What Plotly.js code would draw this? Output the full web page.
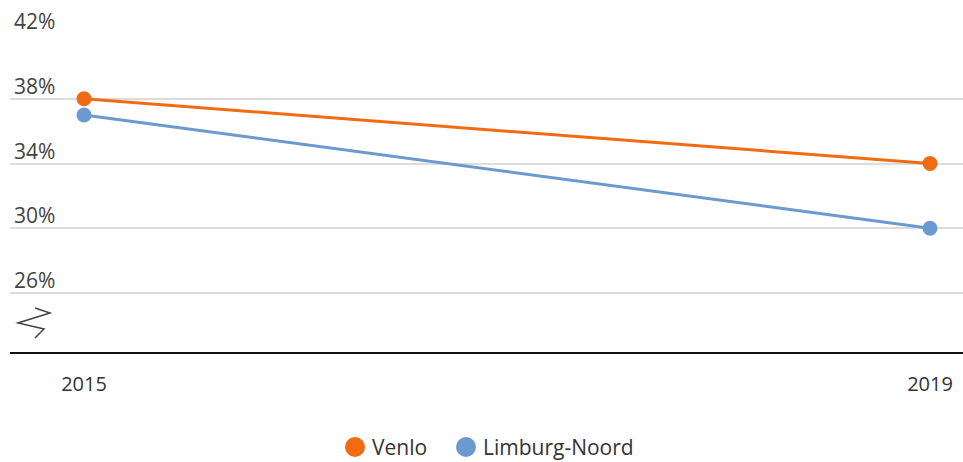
<!DOCTYPE html>
<html>
<head>
<meta charset="utf-8">
<script src="https://cdn.plot.ly/plotly-3.0.1.min.js"></script>
<style>html,body{margin:0;padding:0;background:#fff;}#chart{width:963px;height:462px;}</style>
</head>
<body>
<div id="chart"></div>
<script>
const years = [2015, 2019];
const venlo = [38, 34];
const limburgNoord = [37, 30];
const seriesNames = ['Venlo', 'Limburg-Noord'];
const yTickVals = [26, 30, 34, 38, 42];
const yTickText = ['26%', '30%', '34%', '38%', '42%'];
const xTickText = ['2015', '2019'];

const colors = ['#F26B12', '#6B9AD0'];
const fontFam = 'Open Sans, sans-serif';

const W = 963, H = 462, ML = 10, MR = 0, MT = 34, MB = 109;
const PW = W - ML - MR, PH = H - MT - MB;
const px2x = p => (p - ML) / PW;
const py2y = p => (H - MB - p) / PH;

const traces = [venlo, limburgNoord].map((vals, i) => ({
  x: years, y: vals, name: seriesNames[i], type: 'scatter', mode: 'lines+markers',
  line: {color: colors[i], width: 3},
  marker: {color: colors[i], size: 15},
  showlegend: false,
  hoverinfo: 'x+y+name'
}));

const annotations = yTickVals.map((v, i) => ({
  xref: 'paper', yref: 'y', x: 0, y: v, xanchor: 'left', yanchor: 'bottom',
  xshift: 2, yshift: -3,
  text: yTickText[i], showarrow: false,
  font: {family: fontFam, size: 21, color: '#444'}
}));

// manual legend (circle + label)
const legendCircleX = [355, 466];
const legendY = 447;
const shapes = [
  {type: 'line', xref: 'paper', yref: 'paper', x0: 0, x1: 1, y0: 0, y1: 0,
    line: {color: '#111', width: 2}},
  {type: 'path', xref: 'paper', yref: 'paper', xsizemode: 'pixel', ysizemode: 'pixel',
    xanchor: 0, yanchor: 0,
    path: 'M 25 45 L 40 40 L 8 30 L 34 24 L 25 15',
    line: {color: '#444', width: 1.5}}
];
seriesNames.forEach((n, i) => {
  shapes.push({type: 'circle', xref: 'paper', yref: 'paper', xsizemode: 'pixel', ysizemode: 'pixel',
    xanchor: px2x(legendCircleX[i]), yanchor: py2y(legendY),
    x0: -10, x1: 10, y0: -10, y1: 10,
    fillcolor: colors[i], line: {width: 0}});
  annotations.push({xref: 'paper', yref: 'paper', x: px2x(legendCircleX[i] + 15), y: py2y(legendY),
    xanchor: 'left', yanchor: 'middle', text: n, showarrow: false,
    font: {family: fontFam, size: 21, color: '#333'}});
});

const layout = {
  width: W, height: H,
  margin: {l: ML, r: MR, t: MT, b: MB},
  paper_bgcolor: '#fff', plot_bgcolor: '#fff',
  showlegend: false,
  xaxis: {range: [2014.65, 2019.156], tickvals: years, ticktext: xTickText,
    showgrid: false, zeroline: false, showline: false, ticks: '',
    tickfont: {family: fontFam, size: 20, color: '#333'}, ticklabelstandoff: 17, fixedrange: true},
  yaxis: {range: [22.3, 42], tickvals: yTickVals, showticklabels: false,
    showgrid: true, gridcolor: '#dcdcdc', gridwidth: 2, zeroline: false, showline: false, fixedrange: true},
  annotations: annotations,
  shapes: shapes
};

Plotly.newPlot('chart', traces, layout, {displayModeBar: false, staticPlot: true});
</script>
</body>
</html>
